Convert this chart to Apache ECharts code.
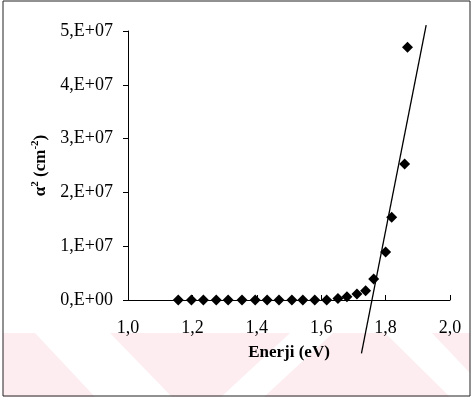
<!DOCTYPE html>
<html>
<head>
<meta charset="utf-8">
<script src="https://cdn.jsdelivr.net/npm/echarts@6/dist/echarts.min.js"></script>
<style>
  html, body { margin: 0; padding: 0; background: #fff; }
  #chart { width: 473px; height: 400px; }
</style>
</head>
<body>
<div id="chart"></div>
<script>
// Photon energy (eV) and squared absorption coefficient (cm^-2)
const energy = [1.156, 1.197, 1.234, 1.274, 1.311, 1.354, 1.395, 1.432, 1.469, 1.509,
                1.543, 1.580, 1.617, 1.652, 1.680, 1.711, 1.738, 1.763, 1.800, 1.819,
                1.859, 1.868];
const alpha2 = [0, 0, 0, 0, 0, 0, 0, 0, 0, 0,
                0, 0, 0, 0.03e7, 0.06e7, 0.11e7, 0.17e7, 0.39e7, 0.89e7, 1.54e7,
                2.53e7, 4.70e7];
// Linear fit of the absorption edge (end points)
const fitEnergy = [1.725, 1.926];
const fitAlpha2 = [-0.99e7, 5.11e7];
// Axis settings
const xMin = 1.0, xMax = 2.0, xStep = 0.2;
const yMin = 0, yMax = 5e7, yStep = 1e7;

const serif = '"Liberation Serif", "Times New Roman", serif';
const pink = '#fdedf0';

// pale diagonal stripes along the bottom of the page
const stripes = [
  [[3, 333], [35, 333], [95, 397], [3, 397]],
  [[110, 333], [290, 333], [221, 397], [172, 397]],
  [[333, 333], [385, 333], [450, 397], [264, 397]],
  [[432, 333], [470, 333], [470, 373]]
].map(pts => ({
  type: 'polygon', silent: true, z: -2,
  shape: { points: pts },
  style: { fill: pink }
}));

const chart = echarts.init(document.getElementById('chart'));
chart.setOption({
  animation: false,
  backgroundColor: '#fff',
  grid: { left: 128, right: 23, top: 31, bottom: 100, containLabel: false },
  xAxis: {
    type: 'value', min: xMin, max: xMax, interval: xStep,
    name: 'Enerji (eV)', nameLocation: 'middle', nameGap: 44,
    nameTextStyle: { fontFamily: serif, fontSize: 17, fontWeight: 'bold', color: '#000' },
    axisLine: { show: true, onZero: false, lineStyle: { color: '#000', width: 1 } },
    axisTick: { show: true, inside: true, length: 5, lineStyle: { color: '#000' } },
    axisLabel: {
      fontFamily: serif, fontSize: 18, color: '#000', margin: 19,
      formatter: v => v.toFixed(1).replace('.', ',')
    },
    splitLine: { show: false }
  },
  yAxis: {
    type: 'value', min: yMin, max: yMax, interval: yStep,
    name: '{a|α}{s|2}{a| (cm}{s|-2}{a|)}', nameLocation: 'middle', nameGap: 66,
    nameRotate: 90,
    nameTextStyle: {
      color: '#000',
      rich: {
        a: { fontFamily: serif, fontSize: 17, fontWeight: 'bold', color: '#000', lineHeight: 20, verticalAlign: 'bottom' },
        s: { fontFamily: serif, fontSize: 11, fontWeight: 'bold', color: '#000', lineHeight: 20, verticalAlign: 'top' }
      }
    },
    axisLine: { show: true, lineStyle: { color: '#000', width: 1 } },
    axisTick: { show: true, inside: false, length: 5, lineStyle: { color: '#000' } },
    axisLabel: {
      fontFamily: serif, fontSize: 18, color: '#000', margin: 15,
      formatter: v => {
        if (v === 0) return '0,E+00';
        return Math.round(v / 1e7) + ',E+07';
      }
    },
    splitLine: { show: false }
  },
  graphic: stripes.concat([
    {
      type: 'rect', silent: true, z: -1,
      shape: { x: 3, y: 1, width: 467, height: 395 },
      style: { fill: 'none', stroke: '#222', lineWidth: 1 }
    }
  ]),
  series: [
    {
      type: 'scatter',
      data: energy.map((e, i) => [e, alpha2[i]]),
      symbol: 'diamond', symbolSize: 11,
      itemStyle: { color: '#000', opacity: 1 },
      clip: false, z: 3
    },
    {
      type: 'line',
      data: fitEnergy.map((e, i) => [e, fitAlpha2[i]]),
      symbol: 'none', clip: false,
      lineStyle: { color: '#000', width: 1.3 },
      z: 2
    }
  ]
});
</script>
</body>
</html>
